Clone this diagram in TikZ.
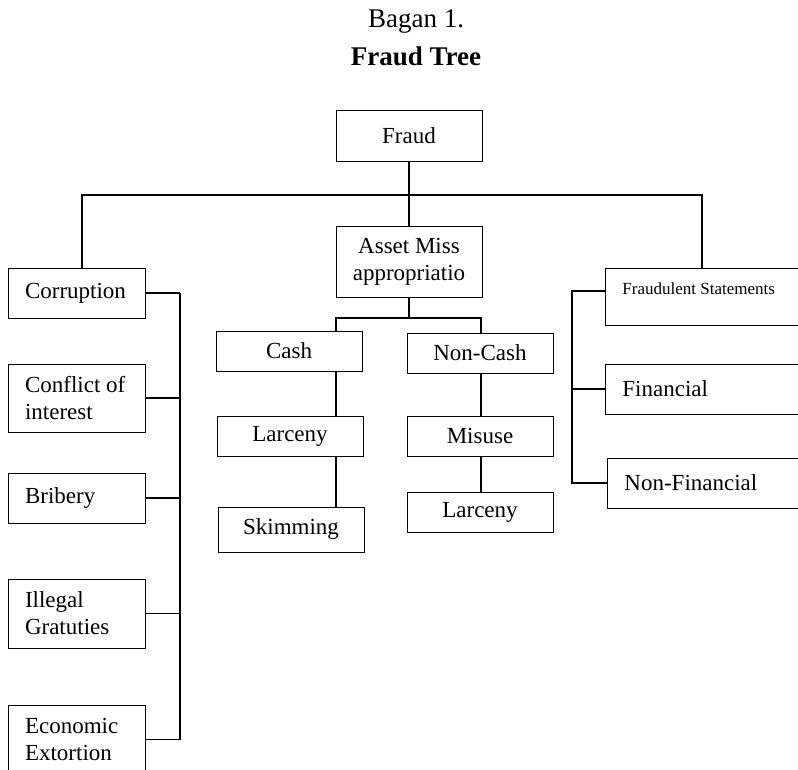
\documentclass[tikz,border=0pt]{standalone}
\usepackage{fontspec}
\setmainfont{Liberation Serif}
\begin{document}
\begin{tikzpicture}[x=1pt,y=-1pt,
  box/.style={draw, line width=0.9pt, inner sep=0pt, font=\fontsize{23}{27}\selectfont},
  cbox/.style={box, align=center, minimum width=146pt},
  lbox/.style={box, align=flush left, text width=103pt, inner xsep=17pt},
  rbox/.style={box, align=flush left, text width=200pt, inner xsep=17pt, anchor=west},
  conn/.style={line width=1.5pt},
  ttl/.style={font=\fontsize{27}{30}\selectfont}]
\clip (0,0) rectangle (798,770);
% title
\node[ttl] (t1) at (416,22) {Bagan 1.};
\node[ttl, font=\bfseries\fontsize{27}{30}\selectfont] (t2) at (416,56) {Fraud Tree};
% centre column
\node[cbox, minimum height=51pt] (fraud) at (409,135.5) {Fraud};
\node[cbox, minimum height=71pt] (asset) at (409,261.5) {Asset Miss\\appropriatio};
% left column
\node[lbox, minimum height=50pt] (corr) at (76.5,293) {Corruption};
\node[lbox, minimum height=68pt] (coi) at (76.5,398) {Conflict of\\interest};
\node[lbox, minimum height=50pt] (brib) at (76.5,498) {Bribery};
\node[lbox, minimum height=69pt] (ill) at (76.5,613.5) {Illegal\\Gratuties};
\node[lbox, minimum height=69pt] (econ) at (76.5,739.5) {Economic\\Extortion};
% asset branches
\node[cbox, minimum height=40pt] (cash) at (289,351) {Cash};
\node[cbox, minimum height=40pt] (larc1) at (290,436) {Larceny};
\node[cbox, minimum height=45pt] (skim) at (291,529.5) {Skimming};
\node[cbox, minimum height=40pt] (ncash) at (480,353) {Non-Cash};
\node[cbox, minimum height=40pt] (misuse) at (480,436) {Misuse};
\node[cbox, minimum height=40pt] (larc2) at (480,512) {Larceny};
% right column
\node[rbox, anchor=north west, font=\fontsize{17}{20}\selectfont, text height=12pt, text depth=17pt, inner ysep=14pt] (fs) at (605,268) {Fraudulent Statements};
\node[rbox, minimum height=50pt] (fin) at (605,389) {Financial};
\node[rbox, minimum height=50pt] (nfin) at (607,483) {Non-Financial};
% connectors
\coordinate (hl) at (82,195);
\coordinate (hr) at (702,195);
\draw[conn] (fraud.south) -- (asset.north);
\draw[conn] (corr.north -| hl) -- (hl) -- (hr) -- (fs.north -| hr);
\coordinate (lb) at (180,0);
\foreach \n in {corr,coi,brib,ill,econ} \draw[conn] (\n.east) -- (\n.east -| lb);
\draw[conn] (corr.east -| lb) -- (econ.east -| lb);
\coordinate (mb) at (0,318);
\coordinate (cx) at (336,0);
\coordinate (nx) at (481,0);
\draw[conn] (asset.south) -- (asset.south |- mb);
\draw[conn] (cash.north -| cx) -- (cx |- mb) -- (nx |- mb) -- (ncash.north -| nx);
\draw[conn] (cash.south -| cx) -- (larc1.north -| cx);
\draw[conn] (larc1.south -| cx) -- (skim.north -| cx);
\draw[conn] (ncash.south -| nx) -- (misuse.north -| nx);
\draw[conn] (misuse.south -| nx) -- (larc2.north -| nx);
\coordinate (rb) at (572,0);
\coordinate (fsy) at (0,291);
\draw[conn] (fs.west |- fsy) -- (rb |- fsy) -- (rb |- nfin.west) -- (nfin.west);
\draw[conn] (fin.west) -- (fin.west -| rb);
\end{tikzpicture}
\end{document}
